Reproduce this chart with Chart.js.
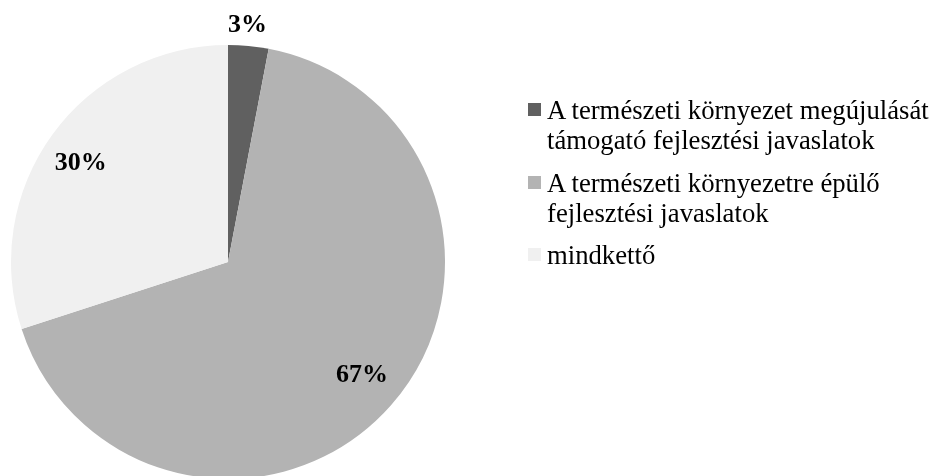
<!DOCTYPE html>
<html>
<head>
<meta charset="utf-8">
<script src="https://cdn.jsdelivr.net/npm/chart.js@4/dist/chart.umd.min.js"></script>
<style>
  html, body { margin: 0; padding: 0; background: #ffffff; overflow: hidden; }
  #wrap { position: relative; width: 933px; height: 476px; overflow: hidden; }
  #c { position: absolute; left: 0; top: 0; }
  .leg { position: absolute; left: 528px; font-family: "Liberation Serif", "Times New Roman", serif; font-size: 26.7px; line-height: 30px; color: #000; white-space: nowrap; }
  .leg .mk { position: absolute; left: 0; width: 13px; height: 13px; }
  .leg .tx { position: absolute; left: 19px; top: 0; }
</style>
</head>
<body>
<div id="wrap">
  <canvas id="c" width="933" height="480"></canvas>
  <div id="legend"></div>
</div>
<script>
const categories = [
  ["A természeti környezet megújulását", "támogató fejlesztési javaslatok"],
  ["A természeti környezetre épülő", "fejlesztési javaslatok"],
  ["mindkettő"]
];
const values = [3, 67, 30];
const valueLabels = ["3%", "67%", "30%"];
const colors = ["#606060", "#b3b3b3", "#f0f0f0"];

const labelRadius = [1.096, 0.808, 0.818];
const labelAngleShiftDeg = [-0.7, -1.3, -2.1];

const pctPlugin = {
  id: 'pctLabels',
  afterDatasetsDraw(chart) {
    const ctx = chart.ctx;
    const meta = chart.getDatasetMeta(0);
    ctx.save();
    ctx.font = 'bold 26px "Liberation Serif", "Times New Roman", serif';
    ctx.fillStyle = '#000';
    ctx.textAlign = 'center';
    ctx.textBaseline = 'middle';
    meta.data.forEach((arc, i) => {
      const p = arc.getProps(['x', 'y', 'startAngle', 'endAngle', 'outerRadius'], true);
      const mid = (p.startAngle + p.endAngle) / 2 + labelAngleShiftDeg[i] * Math.PI / 180;
      const r = p.outerRadius * labelRadius[i];
      ctx.fillText(valueLabels[i], p.x + Math.cos(mid) * r, p.y + Math.sin(mid) * r);
    });
    ctx.restore();
  }
};

new Chart(document.getElementById('c'), {
  type: 'pie',
  data: {
    labels: categories.map(l => l.join(' ')),
    datasets: [{
      data: values,
      backgroundColor: colors,
      borderWidth: 0,
      hoverOffset: 0
    }]
  },
  options: {
    responsive: false,
    animation: false,
    layout: { padding: { left: 11, top: 45, right: 488, bottom: 1 } },
    plugins: {
      legend: { display: false },
      tooltip: { enabled: false }
    }
  },
  plugins: [pctPlugin]
});

// HTML legend
const legendTops = [95, 168, 240];
const legend = document.getElementById('legend');
categories.forEach((lines, i) => {
  const d = document.createElement('div');
  d.className = 'leg';
  d.style.top = legendTops[i] + 'px';
  const mk = document.createElement('div');
  mk.className = 'mk';
  mk.style.background = colors[i];
  mk.style.top = '8px';
  d.appendChild(mk);
  const tx = document.createElement('div');
  tx.className = 'tx';
  tx.innerHTML = lines.join('<br>');
  d.appendChild(tx);
  legend.appendChild(d);
});
</script>
</body>
</html>
